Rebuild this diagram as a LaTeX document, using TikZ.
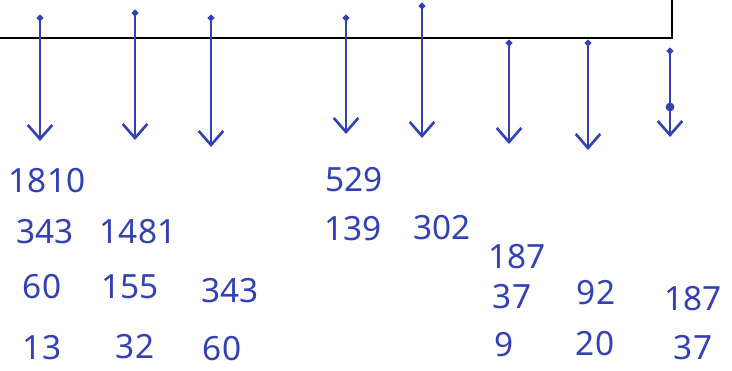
\documentclass[tikz,border=0pt]{standalone}
\usepackage{fontspec}
\setmainfont{Noto Sans}
\usetikzlibrary{arrows.meta}
\definecolor{ink}{HTML}{3441B5}

\begin{document}
\begin{tikzpicture}[x=0.02cm, y=-0.02cm,
  arr/.style={{Circle[length=3.5pt]}-{Straight Barb[length=8pt,width=14pt]}, line width=1.5pt, ink},
  frame/.style={draw=black, line width=0.8pt},
  dot/.style={circle, fill=ink, minimum size=5pt, inner sep=0pt},
  num/.style={font=\fontsize{19}{19}\selectfont, ink, inner sep=0pt}
]
  \useasboundingbox (0,0) rectangle (732,371);
  % box, only its lower edge and right side show
  \coordinate (bl) at (0,38);
  \coordinate (br) at (672,38);
  \coordinate (tr) at (672,0);
  \draw[frame] (bl) -- (br) -- (tr);
  % arrows out of the box
  \foreach \i/\x/\ys/\ye in {1/40/15/141, 2/135/10/140, 3/211/15/147, 4/346/15/134,
                             5/422/3/138, 6/509/40/144, 7/588/40/150, 8/670/48/137}{
    \coordinate (s\i) at (\x,\ys);
    \coordinate (e\i) at (\x,\ye);
    \draw[arr] (s\i) -- (e\i);
  }
  \node[dot] (m8) at (670,107) {};
  % values
  \node[num] (a1) at (47,181) {1810};
  \node[num] (a2) at (45,232) {343};
  \node[num] (a3) at (138,232) {1481};
  \node[num] (a4) at (42,287) {60};
  \node[num] (a5) at (130,287) {155};
  \node[num] (a6) at (230,291) {343};
  \node[num] (a7) at (42,348) {13};
  \node[num] (a8) at (135,347) {32};
  \node[num] (a9) at (222,349) {60};
  \node[num] (b1) at (354,180) {529};
  \node[num] (b2) at (353,229) {139};
  \node[num] (b3) at (442,228) {302};
  \node[num] (c1) at (517,257) {187};
  \node[num] (c2) at (512,297) {37};
  \node[num] (c3) at (596,293) {92};
  \node[num] (c4) at (693,299) {187};
  \node[num] (c5) at (504,345) {9};
  \node[num] (c6) at (595,344) {20};
  \node[num] (c7) at (693,348) {37};
\end{tikzpicture}
\end{document}
